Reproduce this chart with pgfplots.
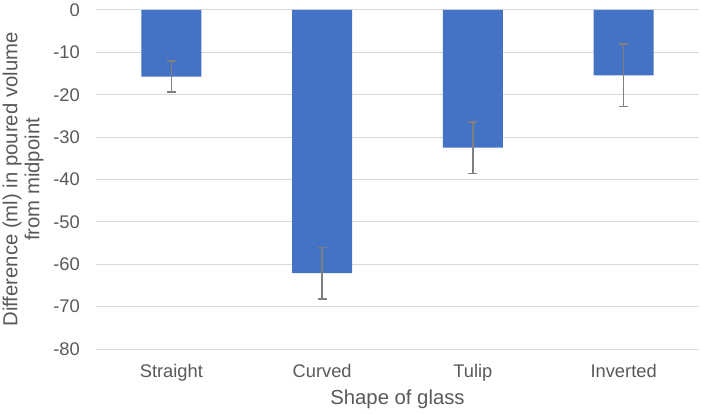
\documentclass[border=0pt]{standalone}
\usepackage{pgfplots}
\usepackage{pgfplotstable}
\pgfplotsset{compat=1.18}
\usepackage{fontspec}
\setmainfont{Liberation Sans}
\definecolor{barblue}{HTML}{4472C4}
\definecolor{txtgray}{HTML}{595959}
\definecolor{gridgray}{HTML}{D9D9D9}
\definecolor{errgray}{HTML}{7F7F7F}

\pgfplotstableread{
x y err
0 -15.7 3.7
1 -62.1 6.1
2 -32.5 6.1
3 -15.4 7.4
}\datatable

\begin{document}
\begin{tikzpicture}
\useasboundingbox (0,0) rectangle (702bp,414bp);
\begin{axis}[
  at={(96bp,65bp)}, anchor=south west,
  scale only axis, width=603bp, height=339bp,
  ybar, bar width=60bp,
  xmin=-0.5, xmax=3.5, ymin=-80, ymax=0,
  xtick=data, xticklabels={Straight,Curved,Tulip,Inverted},
  ytick={-80,-70,-60,-50,-40,-30,-20,-10,0},
  axis line style={draw=none},
  major tick length=0pt,
  ymajorgrids, major grid style={gridgray, line width=1bp},
  /pgf/number format/assume math mode=true,
  ticklabel style={font=\fontsize{18.3bp}{22bp}\selectfont, text=txtgray},
  yticklabel style={anchor=east, inner sep=0pt, xshift=-16bp},
  xticklabel style={anchor=north, inner sep=0pt, yshift=-15bp},
  xlabel={Shape of glass},
  ylabel={Difference (ml) in poured volume\\from midpoint},
  every axis x label/.style={at={(axis description cs:0.5,-0.165)}, anchor=base,
    font=\fontsize{20.3bp}{23bp}\selectfont, text=txtgray},
  every axis y label/.style={at={(axis description cs:-0.121,0.5)}, anchor=center, rotate=90, align=center,
    font=\fontsize{20.3bp}{22bp}\selectfont, text=txtgray},
  clip=false,
]
\addplot[fill=barblue, draw=none,
  error bars/.cd, y dir=both, y explicit,
  error bar style={errgray, line width=1.5bp},
  error mark options={rotate=90, errgray, mark size=4.5bp, line width=1.5bp}]
  table[x=x, y=y, y error=err] {\datatable};
\end{axis}
\end{tikzpicture}
\end{document}
